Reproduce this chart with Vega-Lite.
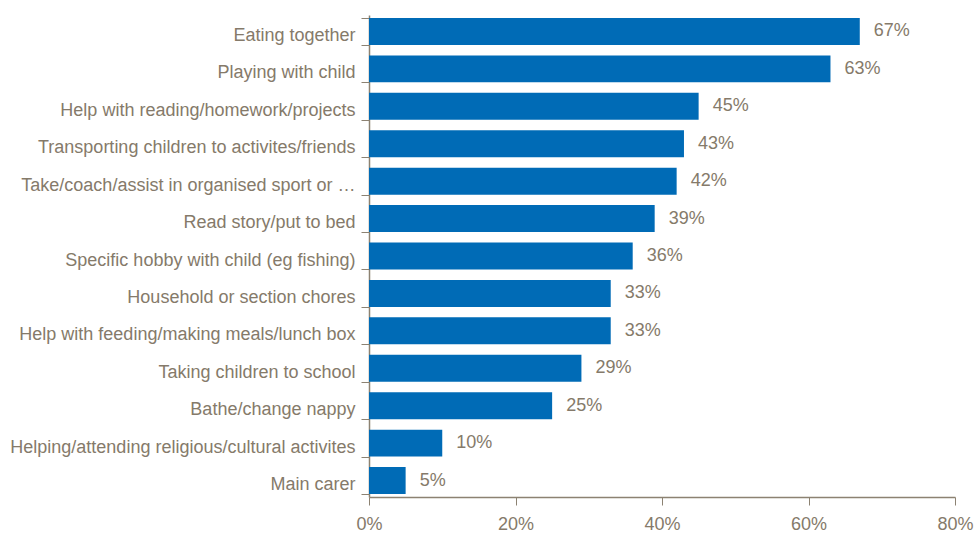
{
  "$schema": "https://vega.github.io/schema/vega-lite/v6.json",
  "autosize": {"type": "none"},
  "padding": {"left": 369, "top": 15, "right": 24, "bottom": 37},
  "width": 586,
  "height": 482,
  "background": "white",
  "config": {
    "view": {"stroke": null},
    "font": "Liberation Sans"
  },
  "data": {
    "values": [
      {"activity": "Eating together", "pct": 67},
      {"activity": "Playing with child", "pct": 63},
      {"activity": "Help with reading/homework/projects", "pct": 45},
      {"activity": "Transporting children to activites/friends", "pct": 43},
      {"activity": "Take/coach/assist in organised sport or …", "pct": 42},
      {"activity": "Read story/put to bed", "pct": 39},
      {"activity": "Specific hobby with child (eg fishing)", "pct": 36},
      {"activity": "Household or section chores", "pct": 33},
      {"activity": "Help with feeding/making meals/lunch box", "pct": 33},
      {"activity": "Taking children to school", "pct": 29},
      {"activity": "Bathe/change nappy", "pct": 25},
      {"activity": "Helping/attending religious/cultural activites", "pct": 10},
      {"activity": "Main carer", "pct": 5}
    ]
  },
  "encoding": {
    "y": {
      "field": "activity",
      "type": "nominal",
      "sort": null,
      "scale": {"paddingInner": 0.28, "paddingOuter": 0.08},
      "axis": {
        "title": null,
        "tickBand": "extent",
        "tickSize": 8,
        "tickColor": "#8c8272",
        "domainColor": "#8c8272",
        "domainWidth": 1.5,
        "labelPadding": 6,
        "labelOffset": 4,
        "labelFontSize": 18,
        "labelColor": "#857a6a",
        "labelLimit": 400
      }
    },
    "x": {
      "field": "pct",
      "type": "quantitative",
      "scale": {"domain": [0, 80]},
      "axis": {
        "title": null,
        "values": [0, 20, 40, 60, 80],
        "labelExpr": "datum.value + '%'",
        "labelFlush": false,
        "grid": false,
        "tickSize": 8,
        "tickColor": "#8c8272",
        "domainColor": "#8c8272",
        "domainWidth": 1.5,
        "labelPadding": 10,
        "labelFontSize": 18,
        "labelColor": "#857a6a"
      }
    }
  },
  "layer": [
    {"mark": {"type": "bar", "color": "#006bb6"}},
    {
      "mark": {"type": "text", "align": "left", "dx": 14, "fontSize": 18, "color": "#857a6a"},
      "encoding": {"text": {"field": "label", "type": "nominal"}},
      "transform": [{"calculate": "datum.pct + '%'", "as": "label"}]
    }
  ]
}
